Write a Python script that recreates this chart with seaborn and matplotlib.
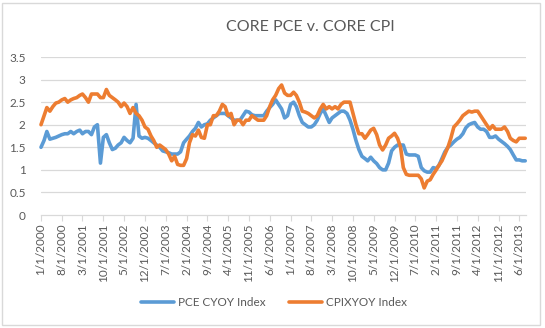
import matplotlib
matplotlib.use("Agg")
import matplotlib.pyplot as plt
import matplotlib.patches as mpatches
import seaborn as sns
import pandas as pd
import numpy as np

# ---- data (monthly, Jan 2000 .. Aug 2013) ----
start_month = "2000-01-01"
pce_cyoy = [
    1.5, 1.65, 1.85, 1.68, 1.7, 1.72, 1.75, 1.78, 1.8, 1.8, 1.85, 1.8,          # 2000
    1.85, 1.88, 1.8, 1.85, 1.85, 1.78, 1.95, 2.0, 1.15, 1.72, 1.78, 1.6,        # 2001
    1.45, 1.48, 1.55, 1.6, 1.72, 1.65, 1.6, 1.7, 2.45, 1.75, 1.7, 1.72,         # 2002
    1.7, 1.65, 1.6, 1.55, 1.5, 1.42, 1.4, 1.38, 1.35, 1.35, 1.35, 1.4,          # 2003
    1.6, 1.68, 1.75, 1.85, 1.92, 2.05, 1.95, 2.0, 2.02, 2.1, 2.15, 2.2,         # 2004
    2.25, 2.25, 2.25, 2.2, 2.15, 2.1, 2.1, 2.1, 2.2, 2.3, 2.28, 2.22,           # 2005
    2.2, 2.2, 2.2, 2.2, 2.3, 2.38, 2.45, 2.55, 2.45, 2.35, 2.15, 2.2,           # 2006
    2.45, 2.5, 2.4, 2.2, 2.05, 2.0, 1.95, 1.95, 2.0, 2.1, 2.25, 2.35,           # 2007
    2.2, 2.05, 2.15, 2.2, 2.25, 2.3, 2.3, 2.25, 2.1, 1.9, 1.65, 1.45,           # 2008
    1.3, 1.25, 1.2, 1.28, 1.2, 1.14, 1.05, 1.0, 1.0, 1.15, 1.42, 1.5,           # 2009
    1.55, 1.55, 1.55, 1.35, 1.33, 1.33, 1.33, 1.3, 1.05, 0.98, 0.95, 0.95,      # 2010
    1.05, 1.03, 1.1, 1.25, 1.4, 1.5, 1.55, 1.62, 1.68, 1.72, 1.8, 1.93,         # 2011
    2.0, 2.03, 2.05, 1.95, 1.9, 1.9, 1.85, 1.72, 1.72, 1.75, 1.68, 1.63,        # 2012
    1.58, 1.52, 1.45, 1.33, 1.22, 1.22, 1.2, 1.2,                               # 2013
]
cpix_yoy = [
    2.0, 2.2, 2.38, 2.3, 2.4, 2.48, 2.5, 2.55, 2.58, 2.5, 2.55, 2.58,           # 2000
    2.6, 2.65, 2.68, 2.6, 2.5, 2.68, 2.68, 2.68, 2.6, 2.6, 2.78, 2.65,          # 2001
    2.6, 2.55, 2.5, 2.4, 2.48, 2.4, 2.25, 2.38, 2.25, 2.2, 2.1, 1.95,           # 2002
    1.9, 1.75, 1.65, 1.5, 1.55, 1.5, 1.45, 1.35, 1.2, 1.3, 1.12, 1.1,           # 2003
    1.1, 1.25, 1.6, 1.78, 1.75, 1.88, 1.72, 1.7, 2.0, 2.0, 2.2, 2.2,            # 2004
    2.3, 2.45, 2.4, 2.2, 2.25, 2.0, 2.1, 2.1, 2.0, 2.1, 2.1, 2.2,               # 2005
    2.15, 2.1, 2.1, 2.1, 2.2, 2.4, 2.55, 2.65, 2.8, 2.88, 2.7, 2.65,            # 2006
    2.65, 2.72, 2.65, 2.5, 2.3, 2.28, 2.25, 2.2, 2.15, 2.2, 2.35, 2.45,         # 2007
    2.35, 2.4, 2.35, 2.4, 2.35, 2.45, 2.5, 2.5, 2.5, 2.25, 2.0, 1.8,            # 2008
    1.8, 1.7, 1.78, 1.88, 1.92, 1.78, 1.55, 1.44, 1.55, 1.7, 1.75, 1.81,        # 2009
    1.7, 1.5, 1.05, 0.9, 0.88, 0.88, 0.88, 0.88, 0.8, 0.6, 0.75, 0.78,          # 2010
    0.9, 1.0, 1.1, 1.2, 1.35, 1.5, 1.7, 1.95, 2.02, 2.1, 2.2, 2.25,             # 2011
    2.3, 2.28, 2.3, 2.3, 2.2, 2.1, 2.0, 1.9, 1.98, 1.9, 1.9, 1.9,               # 2012
    1.95, 1.85, 1.7, 1.65, 1.62, 1.7, 1.7, 1.7,                                 # 2013
]
series_names = ["PCE CYOY Index", "CPIXYOY Index"]
series_colors = ["#5b9bd5", "#ed7d31"]
title_text = "CORE PCE v. CORE CPI"
y_ticks = [0, 0.5, 1, 1.5, 2, 2.5, 3, 3.5]
y_tick_labels = ["0", "0.5", "1", "1.5", "2", "2.5", "3", "3.5"]

dates = pd.date_range(start_month, periods=len(pce_cyoy), freq="MS")
df = pd.DataFrame({
    "date": np.concatenate([dates, dates]),
    "value": pce_cyoy + cpix_yoy,
    "series": [series_names[0]] * len(pce_cyoy) + [series_names[1]] * len(cpix_yoy),
})

sns.set_theme(style="white")
plt.rcParams["font.family"] = ["Lato", "DejaVu Sans"]
text_color = "#595959"
grid_color = "#d9d9d9"

W, H = 545, 328
fig = plt.figure(figsize=(W / 100, H / 100), dpi=100)
ax = fig.add_axes([41 / W, 1 - 215 / H, (526 - 41) / W, (215 - 57) / H])

sns.lineplot(data=df, x="date", y="value", hue="series", hue_order=series_names,
             palette=series_colors, linewidth=2.6, ax=ax, legend=True)
for ln in ax.lines:
    ln.set_clip_on(False)
    ln.set_solid_joinstyle("round")

ax.set_ylim(0, 3.5)
ax.set_xlim(dates[0], dates[-1] + pd.Timedelta(days=8))
ax.set_yticks(y_ticks)
ax.set_yticklabels(y_tick_labels)
tick_dates = dates[::7]
ax.set_xticks(tick_dates)
ax.set_xticklabels([f"{d.month}/{d.day}/{d.year}" for d in tick_dates], rotation=90)
ax.set_xlabel("")
ax.set_ylabel("")

for y in y_ticks[1:]:
    ax.axhline(y, color=grid_color, linewidth=0.9, zorder=0)
for s in ["top", "right", "left"]:
    ax.spines[s].set_visible(False)
ax.spines["bottom"].set_color(grid_color)
ax.spines["bottom"].set_linewidth(0.9)
ax.tick_params(axis="y", length=0, pad=11, labelsize=8.5, labelcolor=text_color)
ax.tick_params(axis="x", bottom=True, length=4, width=0.8, color=grid_color, pad=2,
               labelsize=8.5, labelcolor=text_color)

handles, labels = ax.get_legend_handles_labels()
ax.legend(handles, labels, loc="center", bbox_to_anchor=(274 / W, 1 - 303 / H),
          bbox_transform=fig.transFigure, ncol=2, frameon=False, fontsize=8.5,
          handlelength=2.8, columnspacing=2.0, handletextpad=0.3, labelcolor=text_color)

fig.text(310 / W, 1 - 27 / H, title_text, ha="center", va="center", fontsize=11.5,
         color=text_color)

fig.patches.append(mpatches.Rectangle((2 / W, 3 / H), 538 / W, 322 / H, fill=False,
                                      edgecolor=grid_color, linewidth=1.0,
                                      transform=fig.transFigure, figure=fig))

fig.savefig("out.png", dpi=100, facecolor="white")
